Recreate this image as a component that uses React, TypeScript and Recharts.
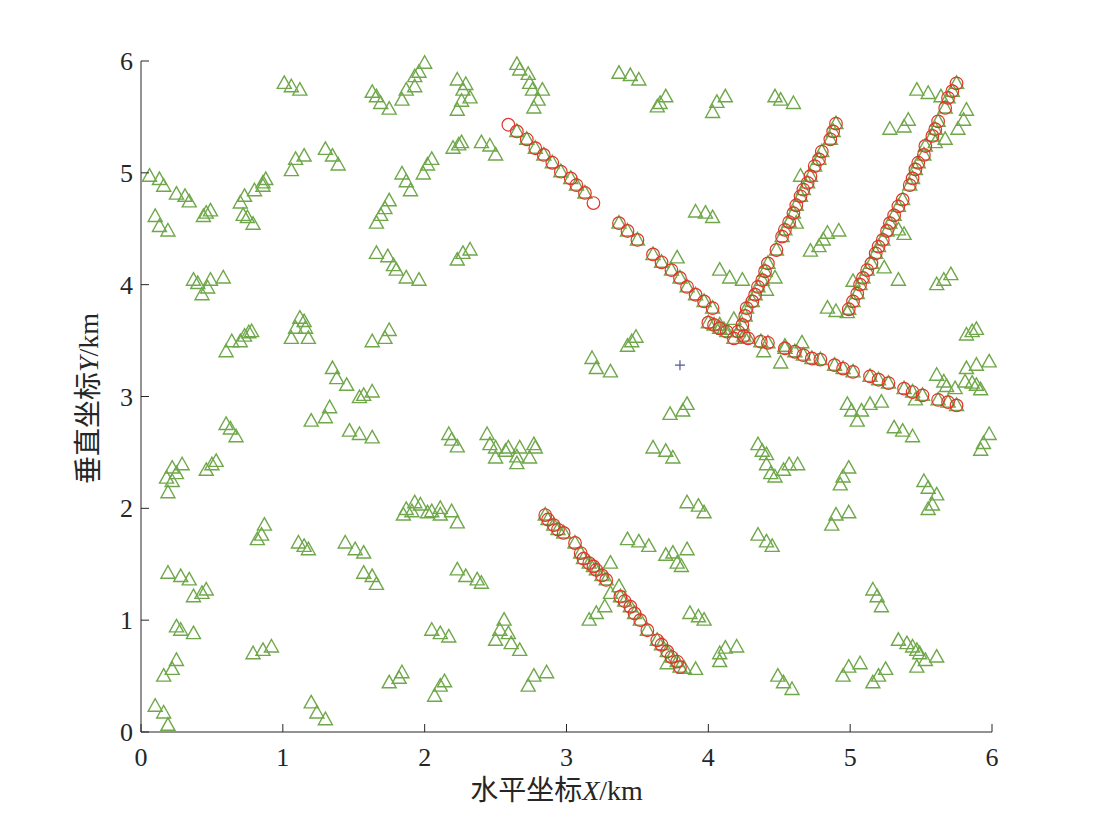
import React from 'react'
import { ScatterChart, Scatter, XAxis, YAxis } from 'recharts'

// axis ticks (km)
const xTicks = [0, 1, 2, 3, 4, 5, 6]
const yTicks = [0, 1, 2, 3, 4, 5, 6]

// green triangles: undetected receivers [x, y]
const receiversUpper = [
  [1.01, 5.8], [1.06, 5.77], [1.12, 5.74],
  [1.63, 5.72], [1.66, 5.68], [1.69, 5.62], [1.75, 5.57], [1.84, 5.65], [1.87, 5.74], [1.93, 5.77], [1.93, 5.86], [1.96, 5.9], [2.0, 5.98],
  [0.06, 4.97], [0.13, 4.94], [0.16, 4.88], [0.25, 4.81], [0.31, 4.79], [0.34, 4.74], [0.1, 4.61], [0.13, 4.52], [0.19, 4.48], [0.44, 4.61], [0.46, 4.64], [0.49, 4.66],
  [0.7, 4.73], [0.73, 4.79], [0.72, 4.62], [0.75, 4.6], [0.79, 4.54], [0.8, 4.84], [0.86, 4.88], [0.86, 4.91], [0.88, 4.94],
  [1.06, 5.02], [1.09, 5.12], [1.15, 5.15], [1.3, 5.21], [1.35, 5.15], [1.39, 5.07],
  [1.84, 4.99], [1.87, 4.92], [1.9, 4.84], [1.99, 4.99], [2.02, 5.07], [2.05, 5.12],
  [1.66, 4.55], [1.69, 4.62], [1.72, 4.68], [1.75, 4.75],
  [1.66, 4.28], [1.74, 4.25], [1.78, 4.17], [1.8, 4.13], [1.87, 4.06], [1.96, 4.04],
  [0.37, 4.04], [0.4, 4.01], [0.49, 4.04], [0.58, 4.06], [0.43, 3.91], [0.47, 3.97],
  [2.23, 5.83], [2.29, 5.79], [2.27, 5.74], [2.32, 5.67], [2.26, 5.64], [2.23, 5.56],
  [2.65, 5.97], [2.67, 5.92], [2.73, 5.88], [2.74, 5.8], [2.76, 5.74], [2.83, 5.74], [2.8, 5.65], [2.77, 5.58],
  [3.37, 5.89], [3.45, 5.87], [3.51, 5.83],
  [3.7, 5.68], [3.66, 5.62], [3.64, 5.59],
  [4.06, 5.63], [4.03, 5.54], [4.12, 5.68],
  [2.2, 5.22], [2.24, 5.25], [2.26, 5.27], [2.4, 5.27], [2.46, 5.24], [2.5, 5.16],
  [2.23, 4.22], [2.27, 4.28], [2.32, 4.31],
  [3.91, 4.65], [3.98, 4.64], [4.03, 4.6],
  [3.78, 4.24],
  [4.47, 5.68], [4.51, 5.65], [4.6, 5.62],
  [5.47, 5.74], [5.55, 5.71], [5.64, 5.68],
  [5.28, 5.39], [5.38, 5.41], [5.41, 5.47],
  [5.82, 5.56], [5.8, 5.47], [5.76, 5.39],
  [5.6, 5.27], [5.67, 5.3],
  [4.65, 4.97], [4.62, 4.55],
  [4.72, 4.3], [4.78, 4.34], [4.81, 4.4], [4.84, 4.46], [4.92, 4.48],
  [5.34, 4.49], [5.38, 4.45],
  [4.08, 4.13], [4.15, 4.06], [4.24, 4.04], [4.47, 4.06],
  [5.24, 4.15], [5.34, 4.04], [5.02, 4.03],
  [5.71, 4.09], [5.66, 4.04], [5.61, 4.0],
]

const receiversMiddle = [
  [0.6, 3.4], [0.64, 3.49], [0.7, 3.49], [0.73, 3.54], [0.76, 3.57], [0.78, 3.58],
  [1.06, 3.52], [1.12, 3.7], [1.15, 3.67], [1.09, 3.61], [1.16, 3.61], [1.18, 3.52],
  [1.63, 3.49], [1.72, 3.52], [1.75, 3.59],
  [1.35, 3.25], [1.38, 3.16], [1.45, 3.1],
  [1.54, 2.99], [1.57, 3.01], [1.63, 3.04],
  [1.2, 2.78], [1.3, 2.81], [1.33, 2.9],
  [1.47, 2.69], [1.54, 2.66], [1.63, 2.63],
  [0.6, 2.75], [0.63, 2.71], [0.67, 2.64],
  [0.19, 2.14], [0.22, 2.24], [0.18, 2.27], [0.25, 2.31], [0.22, 2.36], [0.29, 2.39],
  [0.46, 2.34], [0.5, 2.39], [0.53, 2.42],
  [3.18, 3.34], [3.21, 3.25], [3.31, 3.22],
  [3.43, 3.45], [3.46, 3.49], [3.49, 3.53],
  [3.73, 2.84], [3.82, 2.87], [3.85, 2.93],
  [3.61, 2.54], [3.7, 2.51], [3.75, 2.45],
  [2.17, 2.66], [2.19, 2.61], [2.23, 2.55],
  [2.44, 2.66], [2.46, 2.57], [2.5, 2.54], [2.5, 2.45], [2.57, 2.51], [2.59, 2.54], [2.65, 2.46], [2.65, 2.4], [2.67, 2.54], [2.74, 2.45], [2.77, 2.57], [2.78, 2.54],
  [4.41, 3.95],
  [4.84, 3.79], [4.9, 3.76], [4.98, 3.75],
  [4.08, 3.64], [4.18, 3.69], [4.11, 3.6],
  [4.39, 3.4], [4.51, 3.3], [4.54, 3.45], [4.66, 3.48],
  [5.61, 3.19], [5.66, 3.13], [5.68, 3.09], [5.74, 3.07], [5.46, 2.97],
  [5.82, 3.55], [5.86, 3.58], [5.89, 3.6],
  [5.82, 3.25], [5.89, 3.28], [5.98, 3.31],
  [5.81, 3.13], [5.86, 3.12], [5.89, 3.1], [5.92, 3.06],
  [4.98, 2.93], [5.01, 2.87], [5.05, 2.78], [5.08, 2.87], [5.14, 2.93], [5.22, 2.95],
  [5.31, 2.72], [5.37, 2.69], [5.44, 2.64],
  [5.98, 2.66], [5.94, 2.58], [5.92, 2.52],
  [4.35, 2.57], [4.38, 2.51], [4.41, 2.48], [4.41, 2.39], [4.44, 2.31], [4.47, 2.28], [4.53, 2.34], [4.57, 2.39], [4.63, 2.39],
  [4.99, 2.36], [4.95, 2.28], [4.93, 2.21],
  [5.52, 2.24], [5.55, 2.18], [5.61, 2.12], [5.58, 2.03],
]

const receiversLower = [
  [3.85, 2.05], [3.93, 2.02], [3.97, 1.96], [5.55, 1.99],
  [1.85, 1.94], [1.87, 1.99], [1.91, 1.97], [1.93, 2.05], [1.97, 2.03], [2.02, 1.96],
  [2.05, 1.97], [2.11, 2.0], [2.11, 1.94], [2.19, 1.97], [2.23, 1.87],
  [0.87, 1.85], [0.85, 1.76], [0.82, 1.72],
  [1.11, 1.69], [1.15, 1.66], [1.18, 1.63],
  [1.44, 1.69], [1.51, 1.63], [1.57, 1.6],
  [1.57, 1.42], [1.63, 1.39], [1.66, 1.32],
  [0.19, 1.42], [0.28, 1.39], [0.34, 1.36], [0.37, 1.21], [0.43, 1.24], [0.46, 1.27],
  [0.25, 0.94], [0.28, 0.91], [0.37, 0.88],
  [0.25, 0.64], [0.22, 0.56], [0.16, 0.5],
  [0.1, 0.23], [0.16, 0.17], [0.19, 0.06],
  [0.79, 0.7], [0.86, 0.73], [0.92, 0.76],
  [1.2, 0.26], [1.24, 0.17], [1.3, 0.11],
  [1.75, 0.44], [1.82, 0.48], [1.84, 0.53],
  [2.05, 0.91], [2.11, 0.88], [2.17, 0.85],
  [2.07, 0.32], [2.11, 0.41], [2.14, 0.45],
  [2.23, 1.45], [2.29, 1.39], [2.37, 1.36], [2.4, 1.33],
  [2.56, 1.0], [2.53, 0.91], [2.5, 0.82], [2.59, 0.88], [2.61, 0.79], [2.67, 0.73],
  [2.73, 0.41], [2.77, 0.5], [2.86, 0.53],
  [3.43, 1.72], [3.51, 1.7], [3.58, 1.66],
  [3.7, 1.58], [3.75, 1.6], [3.78, 1.51], [3.81, 1.48], [3.85, 1.63],
  [3.31, 1.51], [3.37, 1.3], [3.31, 1.24], [3.27, 1.12], [3.21, 1.06], [3.16, 1.0],
  [3.87, 1.06], [3.93, 1.03], [3.97, 1.0],
  [3.71, 0.61], [3.83, 0.57], [3.91, 0.56],
  [4.08, 0.7], [4.12, 0.75], [4.2, 0.76], [4.08, 0.63],
  [4.35, 1.76], [4.41, 1.7], [4.45, 1.66],
  [4.87, 1.85], [4.9, 1.94], [4.99, 1.96],
  [5.16, 1.27], [5.19, 1.21], [5.22, 1.12],
  [5.34, 0.82], [5.4, 0.79], [5.44, 0.76], [5.47, 0.73], [5.49, 0.7], [5.53, 0.64], [5.47, 0.58], [5.61, 0.67],
  [4.49, 0.5], [4.53, 0.44], [4.59, 0.38],
  [4.95, 0.5], [4.99, 0.58], [5.07, 0.61],
  [5.16, 0.44], [5.2, 0.5], [5.25, 0.56],
]

// detected receivers (triangle with red circle) along the fault traces
const trace1 = [
  [2.65, 5.37], [2.72, 5.3], [2.78, 5.22], [2.84, 5.16], [2.9, 5.09], [2.96, 5.01], [3.03, 4.95], [3.07, 4.89], [3.13, 4.82],
]
const trace1Ends = [[2.59, 5.43], [3.19, 4.73]]

const trace2 = [
  [3.37, 4.55], [3.43, 4.48], [3.5, 4.4], [3.61, 4.27], [3.67, 4.2], [3.74, 4.13], [3.8, 4.06], [3.85, 3.98], [3.91, 3.91], [3.97, 3.85], [4.03, 3.79], [4.0, 3.66],
]

const trace3 = [
  [4.04, 3.64], [4.08, 3.61], [4.13, 3.58], [4.18, 3.52], [4.25, 3.54], [4.28, 3.52], [4.37, 3.49], [4.42, 3.48],
  [4.54, 3.43], [4.61, 3.4], [4.67, 3.37], [4.73, 3.34], [4.79, 3.33], [4.89, 3.28], [4.95, 3.25], [5.02, 3.22],
  [5.14, 3.18], [5.2, 3.15], [5.27, 3.12], [5.38, 3.07], [5.44, 3.04], [5.51, 3.01], [5.62, 2.97], [5.69, 2.95], [5.75, 2.92],
]

const trace4 = [
  [4.9, 5.44], [4.88, 5.37], [4.86, 5.3], [4.8, 5.19], [4.78, 5.12], [4.75, 5.06], [4.72, 4.97], [4.7, 4.91], [4.67, 4.85],
  [4.65, 4.79], [4.62, 4.71], [4.6, 4.64], [4.57, 4.56], [4.54, 4.49], [4.52, 4.43], [4.48, 4.31], [4.42, 4.19], [4.4, 4.12],
  [4.38, 4.04], [4.35, 3.98], [4.33, 3.91], [4.31, 3.85], [4.27, 3.79], [4.26, 3.72], [4.24, 3.64], [4.21, 3.58],
]

const trace5 = [
  [5.75, 5.8], [5.72, 5.73], [5.69, 5.67], [5.67, 5.58], [5.62, 5.46], [5.6, 5.39], [5.58, 5.33], [5.53, 5.24], [5.52, 5.16],
  [5.48, 5.09], [5.46, 5.03], [5.44, 4.95], [5.42, 4.89], [5.37, 4.76], [5.34, 4.7], [5.31, 4.62], [5.28, 4.55], [5.26, 4.48],
  [5.23, 4.4], [5.2, 4.34], [5.18, 4.28], [5.15, 4.19], [5.12, 4.13], [5.09, 4.06], [5.07, 4.0], [5.05, 3.92], [5.02, 3.85], [4.99, 3.78],
]

const trace6 = [
  [2.85, 1.94], [2.87, 1.9], [2.91, 1.85], [2.94, 1.81], [2.98, 1.78], [3.06, 1.69], [3.1, 1.6], [3.12, 1.55], [3.16, 1.51],
  [3.19, 1.48], [3.21, 1.45], [3.25, 1.4], [3.28, 1.36], [3.38, 1.21], [3.41, 1.17], [3.45, 1.12], [3.48, 1.06], [3.52, 1.0],
  [3.57, 0.91], [3.64, 0.82], [3.67, 0.78], [3.71, 0.72], [3.74, 0.67], [3.78, 0.63], [3.8, 0.58],
]

const sourcePoint = [[3.8, 3.28]]

const GREEN = '#6fa84a'
const RED = '#e2342b'
const AXIS = '#262626'
const FONT = "'Liberation Serif', 'Times New Roman', 'Noto Sans CJK SC', serif"

const pts = (arr: number[][]) => arr.map(([x, y]) => ({ x, y }))

const allTriangles = pts([
  ...receiversUpper, ...receiversMiddle, ...receiversLower,
  ...trace1, ...trace2, ...trace3, ...trace4, ...trace5, ...trace6,
])
const allCircles = pts([...trace1Ends, ...trace1, ...trace2, ...trace3, ...trace4, ...trace5, ...trace6])

const Triangle = (p: any) => {
  const { cx, cy } = p
  return <path d={`M${cx},${cy - 7.5}L${cx + 7},${cy + 5}L${cx - 7},${cy + 5}Z`} fill="none" stroke={GREEN} strokeWidth={1.4} />
}

const Ring = (p: any) => <circle cx={p.cx} cy={p.cy} r={6.3} fill="none" stroke={RED} strokeWidth={1.2} />

const Plus = (p: any) => (
  <path d={`M${p.cx - 5},${p.cy}H${p.cx + 5}M${p.cx},${p.cy - 5}V${p.cy + 5}`} stroke="#55559a" strokeWidth={1.2} />
)

const XTick = (p: any) => (
  <g>
    <line x1={p.x} x2={p.x} y1={p.y} y2={p.y - 8} stroke={AXIS} strokeWidth={1} />
    <text x={p.x} y={p.y + 34} textAnchor="middle" fontSize={26} fontFamily={FONT} fill={AXIS}>{p.payload.value}</text>
  </g>
)

const YTick = (p: any) => (
  <g>
    <line x1={p.x} x2={p.x + 8} y1={p.y} y2={p.y} stroke={AXIS} strokeWidth={1} />
    <text x={p.x - 8} y={p.y + 9} textAnchor="end" fontSize={26} fontFamily={FONT} fill={AXIS}>{p.payload.value}</text>
  </g>
)

const XLabel = (p: any) => {
  const vb = p.viewBox
  return (
    <text x={vb.x + vb.width / 2 - 10} y={vb.y + 68} textAnchor="middle" fontSize={28} fontFamily={FONT} fill={AXIS}>
      <tspan>水平坐标</tspan><tspan fontStyle="italic">X</tspan><tspan>/km</tspan>
    </text>
  )
}

const YLabel = (p: any) => {
  const vb = p.viewBox
  const cx = 88
  const cy = vb.y + vb.height / 2 + 2
  return (
    <text x={cx} y={cy} transform={`rotate(-90 ${cx} ${cy})`} textAnchor="middle" dominantBaseline="central" fontSize={28} fontFamily={FONT} fill={AXIS}>
      <tspan>垂直坐标</tspan><tspan fontStyle="italic">Y</tspan><tspan>/km</tspan>
    </text>
  )
}

export default function App() {
  return (
    <div style={{ position: 'absolute', left: 0, top: 0, width: 1098, height: 823, background: '#fff' }}>
      <ScatterChart width={1098} height={823} margin={{ top: 61, right: 106, bottom: 31, left: 81 }}>
        <XAxis
          type="number" dataKey="x" domain={[0, 6]} ticks={xTicks} interval={0} height={60}
          axisLine={{ stroke: AXIS, strokeWidth: 1 }} tickLine={false} tickSize={0} tickMargin={0}
          tick={<XTick />} label={{ content: <XLabel /> }}
        />
        <YAxis
          type="number" dataKey="y" domain={[0, 6]} ticks={yTicks} interval={0} width={60}
          axisLine={{ stroke: AXIS, strokeWidth: 1 }} tickLine={false} tickSize={0} tickMargin={0}
          tick={<YTick />} label={{ content: <YLabel /> }}
        />
        <Scatter data={allTriangles} shape={<Triangle />} isAnimationActive={false} />
        <Scatter data={allCircles} shape={<Ring />} isAnimationActive={false} />
        <Scatter data={pts(sourcePoint)} shape={<Plus />} isAnimationActive={false} />
      </ScatterChart>
    </div>
  )
}
